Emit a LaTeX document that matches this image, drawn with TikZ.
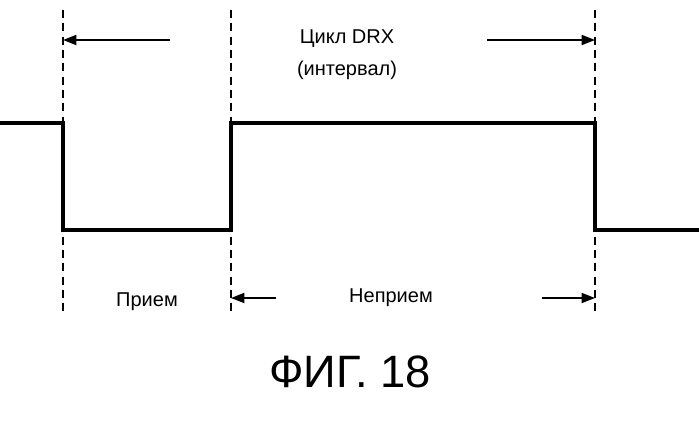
\documentclass[tikz,border=0pt]{standalone}
\usepackage{fontspec}
\setmainfont{Liberation Sans}
\usetikzlibrary{arrows.meta}
\begin{document}
\begin{tikzpicture}[x=0.75pt,y=-0.75pt,
  guide/.style={dash pattern=on 6pt off 4pt,line width=0.8pt},
  wave/.style={line width=2.4pt},
  dim/.style={line width=1.3pt,-{Triangle[length=10pt,width=7.5pt]}},
  lbl/.style={font=\fontsize{15}{17}\selectfont}]
\useasboundingbox (0,0) rectangle (699,425);
\coordinate (g1t) at (63,10); \coordinate (g1b) at (63,316);
\coordinate (g2t) at (231,10); \coordinate (g2b) at (231,316);
\coordinate (g3t) at (595,10); \coordinate (g3b) at (595,316);
\draw[guide] (g1t) -- (g1b);
\draw[guide] (g2t) -- (g2b);
\draw[guide] (g3t) -- (g3b);
\draw[wave] (0,123) -- (63,123) -- (63,230) -- (231,230) -- (231,123) -- (595,123) -- (595,230) -- (699,230);
\coordinate (a1) at (170,40); \coordinate (a1e) at (63,40);
\coordinate (a2) at (487,40); \coordinate (a2e) at (595,40);
\draw[dim] (a1) -- (a1e);
\draw[dim] (a2) -- (a2e);
\coordinate (b1) at (276,298); \coordinate (b1e) at (231,298);
\coordinate (b2) at (542,298); \coordinate (b2e) at (595,298);
\draw[dim] (b1) -- (b1e);
\draw[dim] (b2) -- (b2e);
\node[lbl] (t1) at (347,39) {Цикл DRX};
\node[lbl] (t2) at (347,70) {(интервал)};
\node[lbl] (t3) at (147,302) {Прием};
\node[lbl] (t4) at (391,298) {Неприем};
\node[font=\fontsize{34}{38}\selectfont] (fig) at (350,372) {ФИГ. 18};
\end{tikzpicture}
\end{document}
